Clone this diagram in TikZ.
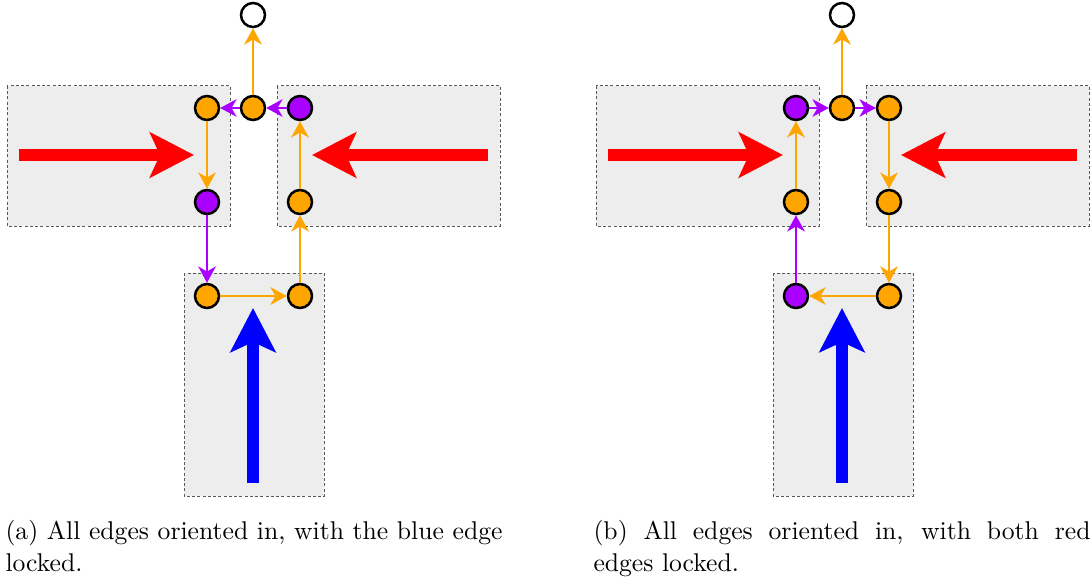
\documentclass[tikz,border=0pt]{standalone}
\usepackage{tikz}
\usetikzlibrary{arrows.meta,calc}
\usepackage{xcolor}
\definecolor{vorange}{HTML}{FFA500}
\definecolor{vpurple}{HTML}{AA00FF}
\definecolor{regiongray}{HTML}{EDEDED}

\tikzset{
  vert/.style={circle,draw=black,line width=1pt,minimum size=9.6pt,inner sep=0pt},
  ov/.style={vert,fill=vorange},
  pv/.style={vert,fill=vpurple},
  wv/.style={vert,fill=white},
  oe/.style={vorange,line width=1.1pt,-{Stealth[length=6.5pt,width=7pt,inset=2pt]}},
  pe/.style={oe,vpurple},
  region/.style={fill=regiongray,draw=black!65,dash pattern=on 1.2pt off 0.9pt,line width=0.4pt},
  force/.style={line width=4.8pt,-{Stealth[length=17.6pt,width=18pt,inset=4pt]}},
  capt/.style={text width=198.8pt,align=justify,inner sep=0pt,anchor=north west,font=\fontsize{10.26}{12.7}\selectfont}
}

\begin{document}
\begin{tikzpicture}[x=0.4pt,y=-0.4pt]
        \useasboundingbox (0,0) rectangle (1091,579);
        % (a) blue edge locked
        \draw[region] (7,86) rectangle (230,226);
        \draw[region] (277,86) rectangle (500,226);
        \draw[region] (184,273) rectangle (324,496);
        \draw[force,red] (19,155) -- (194,155);
        \draw[force,red] (488,155) -- (312,155);
        \draw[force,blue] (253,483) -- (253,308);
        \node[wv] (at) at (253,15) {};
        \node[ov] (al1) at (207,108) {};
        \node[ov] (am) at (253,108) {};
        \node[pv] (ar1) at (300,108) {};
        \node[pv] (al2) at (207,202) {};
        \node[ov] (ar2) at (300,202) {};
        \node[ov] (al3) at (207,296) {};
        \node[ov] (ar3) at (300,296) {};
        \draw[oe] (am) -- (at);
        \draw[pe] (am) -- (al1);
        \draw[pe] (ar1) -- (am);
        \draw[oe] (al1) -- (al2);
        \draw[pe] (al2) -- (al3);
        \draw[oe] (al3) -- (ar3);
        \draw[oe] (ar3) -- (ar2);
        \draw[oe] (ar2) -- (ar1);
        \node[capt] (capa) at (5,520) {(a) All edges oriented in, with the blue edge\linebreak locked.};
        % (b) both red edges locked
        \begin{scope}[shift={(589,0)}]
        \draw[region] (7,86) rectangle (230,226);
        \draw[region] (277,86) rectangle (500,226);
        \draw[region] (184,273) rectangle (324,496);
        \draw[force,red] (19,155) -- (194,155);
        \draw[force,red] (488,155) -- (312,155);
        \draw[force,blue] (253,483) -- (253,308);
        \node[wv] (bt) at (253,15) {};
        \node[pv] (bl1) at (207,108) {};
        \node[ov] (bm) at (253,108) {};
        \node[ov] (br1) at (300,108) {};
        \node[ov] (bl2) at (207,202) {};
        \node[ov] (br2) at (300,202) {};
        \node[pv] (bl3) at (207,296) {};
        \node[ov] (br3) at (300,296) {};
        \draw[oe] (bm) -- (bt);
        \draw[pe] (bl1) -- (bm);
        \draw[pe] (bm) -- (br1);
        \draw[oe] (bl2) -- (bl1);
        \draw[pe] (bl3) -- (bl2);
        \draw[oe] (br3) -- (bl3);
        \draw[oe] (br2) -- (br3);
        \draw[oe] (br1) -- (br2);
        \node[capt] (capb) at (4,520) {(b) All edges oriented in, with both red\linebreak edges locked.};
        \end{scope}
      \end{tikzpicture}
\end{document}
